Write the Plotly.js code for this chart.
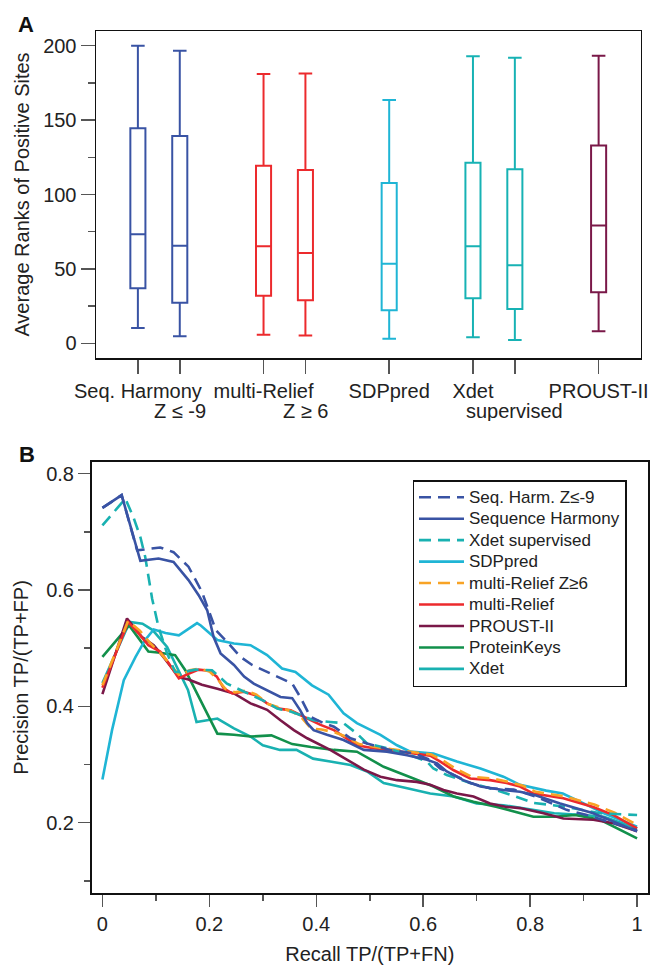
<!DOCTYPE html>
<html>
<head>
<meta charset="utf-8">
<script src="https://cdn.plot.ly/plotly-3.0.1.min.js"></script>
<style>
  html, body { margin: 0; padding: 0; background: #fff; }
  #chart { width: 654px; height: 965px; }
</style>
</head>
<body>
<div id="chart"></div>
<script>
// ---------- Panel A: box summaries ----------
const boxPositions = [1, 2, 4, 5, 7, 9, 10, 12];
const boxLine1 = ["Seq. Harmony", "", "multi-Relief", "", "SDPpred", "Xdet", "", "PROUST-II"];
const boxLine2 = ["", "Z \u2264 -9", "", "Z \u2265 6", "", "", "supervised", ""];
const boxUpper  = [200, 196.6, 181.0, 181.4, 163.5, 193.0, 191.9, 193.3];
const boxQ3     = [144.5, 139.3, 119.4, 116.5, 107.7, 121.4, 116.9, 133.0];
const boxMedian = [73.2, 65.6, 65.2, 60.7, 53.5, 65.2, 52.4, 79.1];
const boxQ1     = [37.0, 27.3, 32.0, 28.9, 22.2, 30.2, 23.1, 34.3];
const boxLower  = [10.3, 4.7, 5.8, 5.2, 3.1, 4.0, 2.2, 8.1];
const boxColors = ["#3953A4", "#3953A4", "#EC2A2D", "#EC2A2D", "#1FB5D5", "#17B2B4", "#17B2B4", "#7A1848"];

// ---------- Panel B: precision-recall curves ----------
const seriesNames = ["Seq. Harm. Z\u2264-9", "Sequence Harmony", "Xdet supervised", "SDPpred",
                     "multi-Relief Z\u22656", "multi-Relief", "PROUST-II", "ProteinKeys", "Xdet"];
const seriesColors = ["#3953A4", "#3953A4", "#19B1B1", "#1FB5D5", "#F8A325", "#EC2A2D", "#7A1848", "#12904B", "#19B1B1"];
const seriesDash = [true, false, true, false, true, false, false, false, false];

const seqHarmZ_r = [0, 0.036, 0.065, 0.108, 0.133, 0.161, 0.186, 0.199, 0.212, 0.233, 0.258, 0.280, 0.308, 0.333, 0.355, 0.370, 0.389, 0.414, 0.433, 0.464, 0.495, 0.538, 0.582, 0.613, 0.632, 0.657, 0.688, 0.725, 0.769, 0.81, 0.868, 0.906, 1.0];
const seqHarmZ_p = [0.741, 0.763, 0.668, 0.673, 0.665, 0.640, 0.597, 0.565, 0.531, 0.511, 0.485, 0.471, 0.459, 0.448, 0.439, 0.416, 0.382, 0.371, 0.365, 0.345, 0.336, 0.325, 0.319, 0.308, 0.293, 0.282, 0.268, 0.259, 0.257, 0.245, 0.222, 0.213, 0.187];

const seqHarm_r = [0, 0.036, 0.071, 0.105, 0.133, 0.161, 0.18, 0.196, 0.208, 0.221, 0.246, 0.265, 0.283, 0.308, 0.333, 0.355, 0.370, 0.383, 0.395, 0.420, 0.451, 0.489, 0.532, 0.570, 0.607, 0.626, 0.644, 0.675, 0.707, 0.750, 0.781, 0.81, 0.856, 0.918, 1.0];
const seqHarm_p = [0.741, 0.763, 0.650, 0.654, 0.648, 0.617, 0.591, 0.565, 0.519, 0.491, 0.471, 0.451, 0.439, 0.428, 0.416, 0.414, 0.393, 0.371, 0.359, 0.351, 0.342, 0.325, 0.322, 0.316, 0.308, 0.302, 0.288, 0.273, 0.262, 0.256, 0.253, 0.247, 0.233, 0.216, 0.185];

const xdetSup_r = [0, 0.043, 0.058, 0.071, 0.080, 0.086, 0.093, 0.105, 0.121, 0.136, 0.152, 0.174, 0.205, 0.233, 0.258, 0.280, 0.305, 0.327, 0.352, 0.370, 0.395, 0.426, 0.451, 0.476, 0.495, 0.532, 0.576, 0.607, 0.619, 0.644, 0.688, 0.725, 0.763, 0.806, 0.868, 0.931, 1.0];
const xdetSup_p = [0.711, 0.757, 0.725, 0.691, 0.657, 0.622, 0.585, 0.536, 0.491, 0.459, 0.459, 0.463, 0.462, 0.439, 0.428, 0.419, 0.408, 0.396, 0.391, 0.385, 0.376, 0.373, 0.371, 0.353, 0.336, 0.328, 0.316, 0.305, 0.293, 0.282, 0.268, 0.259, 0.248, 0.234, 0.227, 0.216, 0.213];

const sdp_r = [0, 0.018, 0.040, 0.062, 0.080, 0.096, 0.118, 0.143, 0.177, 0.184, 0.215, 0.246, 0.277, 0.308, 0.336, 0.361, 0.392, 0.423, 0.451, 0.476, 0.520, 0.551, 0.576, 0.619, 0.663, 0.707, 0.750, 0.781, 0.83, 0.861, 0.9, 0.938, 1.0];
const sdp_p = [0.274, 0.359, 0.445, 0.485, 0.514, 0.532, 0.526, 0.522, 0.543, 0.539, 0.514, 0.508, 0.505, 0.488, 0.465, 0.459, 0.436, 0.420, 0.388, 0.371, 0.351, 0.333, 0.322, 0.319, 0.305, 0.293, 0.279, 0.265, 0.255, 0.250, 0.233, 0.216, 0.193];

const mrZ_r = [0, 0.048, 0.070, 0.090, 0.110, 0.128, 0.145, 0.163, 0.182, 0.200, 0.215, 0.230, 0.248, 0.268, 0.288, 0.310, 0.332, 0.355, 0.373, 0.390, 0.410, 0.435, 0.455, 0.480, 0.510, 0.555, 0.585, 0.615, 0.635, 0.660, 0.690, 0.728, 0.760, 0.785, 0.810, 0.865, 0.920, 0.958, 1.0];
const mrZ_p = [0.436, 0.547, 0.530, 0.508, 0.490, 0.470, 0.452, 0.462, 0.465, 0.460, 0.447, 0.430, 0.424, 0.427, 0.420, 0.404, 0.397, 0.391, 0.380, 0.362, 0.360, 0.355, 0.348, 0.335, 0.330, 0.324, 0.320, 0.317, 0.308, 0.293, 0.279, 0.276, 0.270, 0.264, 0.253, 0.245, 0.231, 0.217, 0.196];

const mr_r = [0, 0.048, 0.068, 0.086, 0.108, 0.124, 0.143, 0.161, 0.180, 0.199, 0.214, 0.227, 0.243, 0.265, 0.286, 0.308, 0.330, 0.352, 0.370, 0.389, 0.408, 0.433, 0.451, 0.476, 0.507, 0.551, 0.582, 0.613, 0.632, 0.657, 0.688, 0.725, 0.756, 0.781, 0.806, 0.862, 0.918, 0.956, 1.0];
const mr_p = [0.432, 0.545, 0.525, 0.505, 0.494, 0.474, 0.448, 0.456, 0.463, 0.461, 0.451, 0.431, 0.422, 0.425, 0.419, 0.405, 0.396, 0.393, 0.385, 0.376, 0.368, 0.359, 0.348, 0.333, 0.328, 0.322, 0.319, 0.315, 0.305, 0.290, 0.276, 0.273, 0.268, 0.262, 0.250, 0.242, 0.227, 0.213, 0.190];

const proust_r = [0, 0.046, 0.074, 0.096, 0.114, 0.143, 0.161, 0.186, 0.215, 0.246, 0.277, 0.308, 0.333, 0.358, 0.383, 0.426, 0.458, 0.489, 0.520, 0.551, 0.588, 0.613, 0.638, 0.663, 0.694, 0.725, 0.756, 0.781, 0.825, 0.862, 0.918, 0.956, 1.0];
const proust_p = [0.421, 0.551, 0.519, 0.505, 0.485, 0.450, 0.446, 0.437, 0.430, 0.422, 0.405, 0.394, 0.376, 0.359, 0.345, 0.325, 0.308, 0.291, 0.279, 0.273, 0.270, 0.265, 0.256, 0.250, 0.245, 0.233, 0.227, 0.225, 0.216, 0.207, 0.205, 0.199, 0.185];

const pk_r = [0, 0.050, 0.086, 0.108, 0.136, 0.155, 0.171, 0.186, 0.215, 0.246, 0.277, 0.316, 0.355, 0.39, 0.433, 0.476, 0.526, 0.582, 0.619, 0.657, 0.694, 0.738, 0.781, 0.806, 0.845, 0.884, 0.931, 1.0];
const pk_p = [0.485, 0.539, 0.494, 0.492, 0.488, 0.462, 0.433, 0.405, 0.353, 0.351, 0.348, 0.350, 0.335, 0.330, 0.325, 0.322, 0.296, 0.276, 0.262, 0.245, 0.236, 0.227, 0.216, 0.210, 0.210, 0.213, 0.205, 0.173];

const xdet_r = [0, 0.051, 0.075, 0.094, 0.121, 0.145, 0.160, 0.176, 0.200, 0.215, 0.246, 0.277, 0.300, 0.332, 0.363, 0.394, 0.426, 0.464, 0.495, 0.526, 0.570, 0.613, 0.657, 0.700, 0.750, 0.806, 0.845, 0.9, 0.938, 1.0];
const xdet_p = [0.44, 0.545, 0.542, 0.531, 0.502, 0.456, 0.428, 0.373, 0.376, 0.379, 0.362, 0.348, 0.333, 0.325, 0.325, 0.310, 0.305, 0.299, 0.288, 0.268, 0.259, 0.250, 0.245, 0.233, 0.230, 0.222, 0.216, 0.213, 0.210, 0.190];

const seriesR = [seqHarmZ_r, seqHarm_r, xdetSup_r, sdp_r, mrZ_r, mr_r, proust_r, pk_r, xdet_r];
const seriesP = [seqHarmZ_p, seqHarm_p, xdetSup_p, sdp_p, mrZ_p, mr_p, proust_p, pk_p, xdet_p];

// ---------- build traces ----------
const FONT = "Liberation Sans, Arial, Helvetica, sans-serif";
const W = 654, H = 965;
const px = v => v / W;
const py = v => 1 - v / H;

const traces = [];
boxPositions.forEach((pos, i) => {
  traces.push({
    type: "box", x: [pos],
    q1: [boxQ1[i]], median: [boxMedian[i]], q3: [boxQ3[i]],
    lowerfence: [boxLower[i]], upperfence: [boxUpper[i]],
    width: 0.36, whiskerwidth: 0.9,
    line: { color: boxColors[i], width: 2 },
    fillcolor: "rgba(0,0,0,0)",
    xaxis: "x", yaxis: "y", showlegend: false, hoverinfo: "skip"
  });
});

const drawOrder = [8, 7, 6, 3, 5, 4, 2, 1, 0];
drawOrder.forEach(i => {
  traces.push({
    type: "scatter", mode: "lines",
    x: seriesR[i], y: seriesP[i],
    name: '<span style="font-size:17px">' + seriesNames[i] + '</span>',
    legendrank: i + 1,
    line: { color: seriesColors[i], width: 2.6, dash: seriesDash[i] ? "12px,7px" : "solid" },
    xaxis: "x2", yaxis: "y2"
  });
});

const tickGray = "#555";
const layout = {
  width: W, height: H,
  margin: { l: 0, r: 0, t: 0, b: 0 },
  paper_bgcolor: "#fff", plot_bgcolor: "#fff",
  font: { family: FONT, size: 20, color: "#222" },
  boxmode: "overlay",
  showlegend: true,
  xaxis: {
    domain: [px(96), px(640.5)], anchor: "y",
    range: [0, 13], tickmode: "array", tickvals: boxPositions, ticktext: boxLine1,
    ticks: "outside", ticklen: 14, tickwidth: 1.5, tickcolor: tickGray,
    showline: true, mirror: true, linecolor: "#111", linewidth: 1.5,
    showgrid: false, zeroline: false, tickfont: { size: 20, color: "#222" }
  },
  yaxis: {
    domain: [py(358), py(31)], anchor: "x",
    range: [-9.9, 209.9], tickmode: "array", tickvals: [0, 50, 100, 150, 200],
    ticks: "outside", ticklen: 14, tickwidth: 1.5, tickcolor: tickGray,
    minor: { tickmode: "array", tickvals: [25, 75, 125, 175], ticks: "outside", ticklen: 7, tickwidth: 1.5, tickcolor: tickGray, showgrid: false },
    showline: true, mirror: true, linecolor: "#111", linewidth: 1.5,
    showgrid: false, zeroline: false, tickfont: { size: 20, color: "#222" },
    title: { text: "Average Ranks of Positive Sites", font: { size: 20, color: "#222" }, standoff: 8 }
  },
  xaxis2: {
    domain: [px(91.5), px(648)], anchor: "y2",
    range: [-0.0204, 1.0204], tickmode: "array", tickvals: [0, 0.2, 0.4, 0.6, 0.8, 1],
    ticktext: ["0", "0.2", "0.4", "0.6", "0.8", "1"],
    ticks: "outside", ticklen: 12, tickwidth: 1.5, tickcolor: tickGray,
    minor: { tickmode: "array", tickvals: [0.1, 0.3, 0.5, 0.7, 0.9], ticks: "outside", ticklen: 6, tickwidth: 1.5, tickcolor: tickGray, showgrid: false },
    showline: true, mirror: true, linecolor: "#111", linewidth: 1.5,
    showgrid: false, zeroline: false, tickfont: { size: 20, color: "#222" },
    title: { text: "Recall TP/(TP+FN)", font: { size: 20, color: "#222" }, standoff: 13 }
  },
  yaxis2: {
    domain: [py(893.3), py(461.7)], anchor: "x2",
    range: [0.0785, 0.8205], tickmode: "array", tickvals: [0.2, 0.4, 0.6, 0.8],
    ticktext: ["0.2", "0.4", "0.6", "0.8"],
    ticks: "outside", ticklen: 12, tickwidth: 1.5, tickcolor: tickGray,
    minor: { tickmode: "array", tickvals: [0.1, 0.3, 0.5, 0.7], ticks: "outside", ticklen: 6, tickwidth: 1.5, tickcolor: tickGray, showgrid: false },
    showline: true, mirror: true, linecolor: "#111", linewidth: 1.5,
    showgrid: false, zeroline: false, tickfont: { size: 20, color: "#222" },
    title: { text: "Precision TP/(TP+FP)", font: { size: 20, color: "#222" }, standoff: 12 }
  },
  legend: {
    x: px(412.5), y: py(480), xanchor: "left", yanchor: "top",
    xref: "paper", yref: "paper",
    bgcolor: "#fff", bordercolor: "#111", borderwidth: 1.5,
    font: { family: FONT, size: 14.2, color: "#222" },
    itemwidth: 45,
    traceorder: "normal", tracegroupgap: 0
  },
  annotations: [
    { text: "<b>A</b>", xref: "paper", yref: "paper", x: px(16), y: py(25), xanchor: "left", yanchor: "middle", showarrow: false, font: { size: 22, color: "#111" } },
    { text: "<b>B</b>", xref: "paper", yref: "paper", x: px(17), y: py(454), xanchor: "left", yanchor: "middle", showarrow: false, font: { size: 22, color: "#111" } }
  ]
};

boxLine2.forEach((t, i) => {
  if (t) layout.annotations.push({
    text: t, xref: "x", yref: "paper", x: boxPositions[i], y: py(411),
    xanchor: "center", yanchor: "middle", height: 20, showarrow: false, font: { size: 20, color: "#222" }
  });
});

Plotly.newPlot("chart", traces, layout, { displayModeBar: false, staticPlot: true });
</script>
</body>
</html>
